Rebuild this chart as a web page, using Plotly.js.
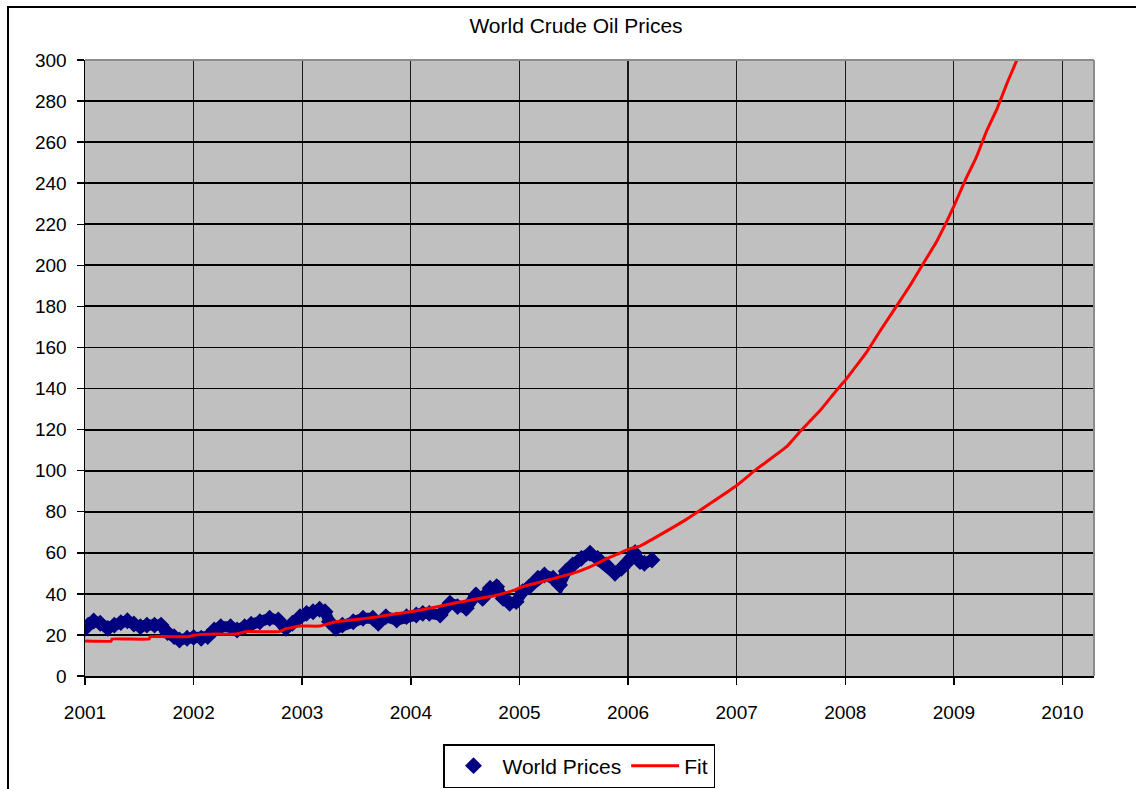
<!DOCTYPE html>
<html>
<head>
<meta charset="utf-8">
<script src="https://cdn.plot.ly/plotly-3.0.1.min.js"></script>
<style>
  html, body { margin: 0; padding: 0; background: #ffffff; overflow: hidden; }
  #chart { width: 1136px; height: 789px; }
</style>
</head>
<body>
<div id="chart"></div>
<script>
// ---- Data ----
const priceYears = [
  2001.00, 2001.03, 2001.08, 2001.14, 2001.21, 2001.27, 2001.33, 2001.39, 2001.45, 2001.51,
  2001.57, 2001.64, 2001.70, 2001.76, 2001.82, 2001.87, 2001.94, 2002.00, 2002.07, 2002.13,
  2002.19, 2002.25, 2002.34, 2002.40, 2002.47, 2002.53, 2002.61, 2002.70, 2002.78, 2002.85,
  2002.91, 2002.98, 2003.04, 2003.10, 2003.16, 2003.21, 2003.25, 2003.31, 2003.37, 2003.47,
  2003.56, 2003.65, 2003.70, 2003.77, 2003.87, 2003.96, 2004.05, 2004.11, 2004.17, 2004.27,
  2004.36, 2004.43, 2004.51, 2004.60, 2004.66, 2004.73, 2004.79, 2004.85, 2004.91, 2004.97,
  2005.03, 2005.09, 2005.17, 2005.23, 2005.31, 2005.37, 2005.43, 2005.49, 2005.57, 2005.65,
  2005.72, 2005.80, 2005.88, 2005.94, 2006.00, 2006.06, 2006.11, 2006.15, 2006.22
];
const priceValues = [
  23.2, 24.8, 26.8, 25.7, 23.2, 24.8, 26.0, 26.9, 25.3, 24.0,
  24.8, 24.8, 24.8, 21.1, 19.2, 17.5, 18.4, 18.8, 18.4, 19.2,
  22.4, 24.0, 24.0, 22.4, 24.0, 25.2, 26.4, 28.1, 27.3, 23.2,
  25.7, 28.9, 30.5, 31.3, 32.5, 31.3, 26.4, 23.2, 24.8, 26.4,
  28.1, 28.1, 25.7, 28.9, 27.3, 28.9, 29.7, 30.5, 30.5, 29.7,
  35.4, 33.8, 33.0, 39.5, 37.8, 42.7, 43.5, 37.8, 35.4, 36.2,
  41.1, 43.5, 47.6, 49.2, 47.6, 44.3, 51.0, 54.1, 57.3, 59.8,
  57.3, 54.1, 50.0, 52.5, 55.7, 59.8, 55.7, 54.9, 56.5
];

const fitYears = [
  2001.00, 2001.24, 2001.25, 2001.59, 2001.60, 2001.95, 2002.00, 2002.21, 2002.39, 2002.48,
  2002.79, 2002.85, 2002.98, 2003.16, 2003.31, 2003.50, 2003.70, 2003.85, 2004.08, 2004.45,
  2004.77, 2004.94, 2005.03, 2005.49, 2005.65, 2005.80, 2005.95, 2006.00, 2006.11, 2006.23,
  2006.54, 2007.00, 2007.18, 2007.46, 2007.60, 2007.77, 2007.92, 2008.00, 2008.20, 2008.32,
  2008.49, 2008.60, 2008.72, 2008.84, 2008.94, 2009.00, 2009.10, 2009.21, 2009.30, 2009.40,
  2009.49, 2009.60
];
const fitValues = [
  17.0, 17.0, 18.0, 18.0, 19.1, 19.1, 19.8, 20.4, 20.4, 21.6,
  21.6, 23.0, 24.3, 24.3, 26.4, 27.5, 28.9, 30.2, 32.0, 36.0,
  39.1, 41.6, 43.5, 50.0, 53.2, 57.0, 60.5, 61.7, 63.3, 66.8,
  76.4, 92.8, 100.6, 111.7, 120.0, 129.4, 139.2, 144.0, 158.0, 168.0,
  181.6, 190.5, 201.0, 211.5, 222.0, 228.8, 240.9, 253.1, 265.2, 276.6,
  288.8, 302.5
];

const yearTicks = [2001, 2002, 2003, 2004, 2005, 2006, 2007, 2008, 2009, 2010];
const yearLabels = ["2001", "2002", "2003", "2004", "2005", "2006", "2007", "2008", "2009", "2010"];
const chartTitle = "World Crude Oil Prices";
const priceName = "World Prices";
const fitName = "Fit";

// ---- Traces ----
const NAVY = "#000080";
const FONT = "Liberation Sans, Arial, sans-serif";

const traces = [
  { // band joining the price markers (no legend entry)
    x: priceYears, y: priceValues, type: "scatter", mode: "lines",
    line: { color: NAVY, width: 11 }, showlegend: false, hoverinfo: "skip"
  },
  {
    x: priceYears, y: priceValues, type: "scatter", mode: "markers",
    name: priceName,
    marker: { symbol: "diamond", color: NAVY, size: 13, line: { width: 0 } }
  },
  {
    x: fitYears, y: fitValues, type: "scatter", mode: "lines",
    name: fitName,
    line: { color: "#ff0000", width: 3, shape: "spline", smoothing: 0.3 }
  }
];

// plot area: x 85..1094, y 60..676
const L = 85, R = 1094, T = 60, B = 676, W = 1136, H = 789;
const px = v => (v - L) / (R - L);
const py = v => (B - v) / (B - T);

const layout = {
  width: W, height: H,
  margin: { l: L, r: W - R, t: T, b: H - B, pad: 0, autoexpand: false },
  paper_bgcolor: "#ffffff",
  plot_bgcolor: "#c0c0c0",
  font: { family: FONT, color: "#000000", size: 19 },
  title: {
    text: chartTitle,
    font: { family: FONT, size: 21, color: "#000" },
    xref: "container", x: 576 / W, xanchor: "center",
    yref: "container", y: 1 - 26 / H, yanchor: "middle"
  },
  xaxis: {
    range: [2001, 2010.29],
    tickvals: yearTicks, ticktext: yearLabels,
    ticks: "outside", ticklen: 7, tickwidth: 1.5, tickcolor: "#000",
    showgrid: true, gridcolor: "#1a1a1a", gridwidth: 1.2,
    showline: true, linecolor: "#000", linewidth: 1.5,
    zeroline: false,
    ticklabelstandoff: 12,
    tickfont: { family: FONT, size: 19, color: "#000" },
    fixedrange: true
  },
  yaxis: {
    range: [0, 300], dtick: 20, tick0: 0,
    ticks: "outside", ticklen: 7, tickwidth: 1.5, tickcolor: "#000",
    showgrid: true, gridcolor: "#000", gridwidth: 1.8,
    showline: true, linecolor: "#000", linewidth: 1.5,
    zeroline: false,
    ticklabelstandoff: 6,
    tickfont: { family: FONT, size: 19, color: "#000" },
    fixedrange: true
  },
  legend: {
    orientation: "h",
    x: px(579), xanchor: "center",
    y: py(744), yanchor: "top",
    bgcolor: "#ffffff", bordercolor: "#000", borderwidth: 1.5,
    font: { family: FONT, size: 21, color: "#000" },
    itemwidth: 48,
    tracegroupgap: 0
  },
  shapes: [
    // gray plot-area frame (top and right)
    { type: "line", xref: "paper", yref: "paper", x0: 0, x1: 1, y0: 1, y1: 1,
      line: { color: "#8c8c8c", width: 2 } },
    { type: "line", xref: "paper", yref: "paper", x0: 1, x1: 1, y0: 0, y1: 1,
      line: { color: "#8c8c8c", width: 2 } },
    // outer chart border (right and bottom edges lie outside the picture)
    { type: "rect", xref: "paper", yref: "paper",
      x0: px(8), x1: px(1220), y0: py(880), y1: py(7),
      line: { color: "#000", width: 2 }, fillcolor: "rgba(0,0,0,0)", layer: "above" }
  ],
  showlegend: true,
  hovermode: false
};

Plotly.newPlot("chart", traces, layout, { displayModeBar: false, staticPlot: true });
</script>
</body>
</html>
